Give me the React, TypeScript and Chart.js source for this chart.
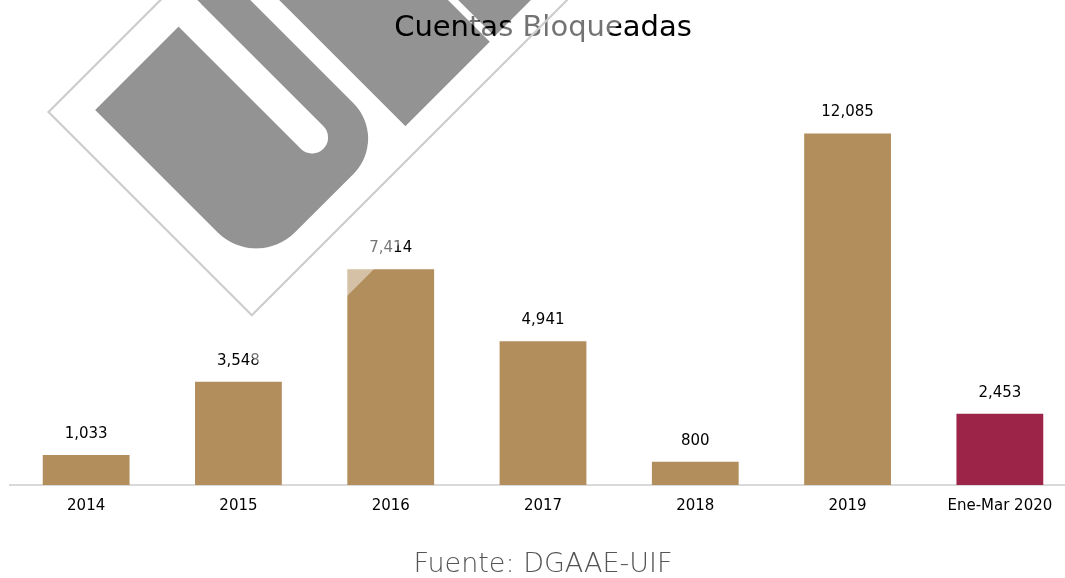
import React, { useEffect, useRef } from 'react';
import { Chart, registerables } from 'chart.js';

Chart.register(...registerables);

// ---- data ----
const categories = ['2014', '2015', '2016', '2017', '2018', '2019', 'Ene-Mar 2020'];
const values = [1033, 3548, 7414, 4941, 800, 12085, 2453];
const barColors = ['#B38E5D', '#B38E5D', '#B38E5D', '#B38E5D', '#B38E5D', '#B38E5D', '#9D2449'];
const titleText = 'Cuentas Bloqueadas';
const sourceText = 'Fuente: DGAAE-UIF';
const yMax = 14000;

const FONT = '"DejaVu Sans", sans-serif';
const CW = 1086;
const CH = 578;

// ---- watermark (decorative logo, drawn in a 45deg rotated frame) ----
function uPath(): Path2D {
  const p = new Path2D();
  p.moveTo(-20, -177);
  p.arcTo(373, -177, 373, 10.6, 50);
  p.arcTo(373, 10.6, 145, 10.6, 55);
  p.lineTo(145, 10.6);
  p.lineTo(145, -139.3);
  p.lineTo(-20, -139.3);
  p.closePath();
  return p;
}
function slotPath(): Path2D {
  const p = new Path2D();
  p.rect(100, -139.3, 218, 31.8);
  p.moveTo(318, -123.4);
  p.arc(318, -123.4, 15.9, -Math.PI / 2, Math.PI / 2);
  p.closePath();
  return p;
}
function blocksPath(): Path2D {
  const p = new Path2D();
  p.rect(-40, -316.8, 416, 119.5);
  p.rect(-40, -460, 415.5, 136.1);
  return p;
}

const watermarkBelow = {
  id: 'watermarkBelow',
  beforeDraw(chart: any) {
    const ctx: CanvasRenderingContext2D = chart.ctx;
    ctx.save();
    ctx.rotate(Math.PI / 4);
    ctx.fillStyle = '#939393';
    ctx.fill(uPath());
    ctx.globalCompositeOperation = 'destination-out';
    ctx.fill(slotPath());
    ctx.globalCompositeOperation = 'source-over';
    ctx.fill(blocksPath());
    ctx.restore();
  },
};

const watermarkAbove = {
  id: 'watermarkAbove',
  afterDraw(chart: any) {
    const ctx: CanvasRenderingContext2D = chart.ctx;
    const off = document.createElement('canvas');
    off.width = CW;
    off.height = CH;
    const o = off.getContext('2d')!;
    o.rotate(Math.PI / 4);
    o.fillStyle = 'rgba(255,255,255,0.45)';
    o.fillRect(-1000, -1000, 1454.7, 1074.2);
    o.globalCompositeOperation = 'destination-out';
    o.fillStyle = '#000';
    o.fill(uPath());
    o.globalCompositeOperation = 'source-over';
    o.fillStyle = 'rgba(255,255,255,0.45)';
    o.fill(slotPath());
    o.globalCompositeOperation = 'destination-out';
    o.fillStyle = '#000';
    o.fill(blocksPath());
    ctx.save();
    ctx.setTransform(1, 0, 0, 1, 0, 0);
    ctx.drawImage(off, 0, 0);
    ctx.rotate(Math.PI / 4);
    ctx.strokeStyle = '#cdcdcd';
    ctx.lineWidth = 2.2;
    ctx.beginPath();
    ctx.moveTo(113.5, -700);
    ctx.lineTo(113.5, 44.9);
    ctx.lineTo(401, 44.9);
    ctx.lineTo(401, -700);
    ctx.stroke();
    ctx.restore();
  },
};

const valueLabels = {
  id: 'valueLabels',
  afterDatasetsDraw(chart: any) {
    const ctx: CanvasRenderingContext2D = chart.ctx;
    const meta = chart.getDatasetMeta(0);
    ctx.save();
    ctx.font = `15px ${FONT}`;
    ctx.fillStyle = '#000';
    ctx.textAlign = 'center';
    ctx.textBaseline = 'middle';
    meta.data.forEach((bar: any, i: number) => {
      ctx.fillText(values[i].toLocaleString('en-US'), bar.x, bar.y - 21);
    });
    ctx.restore();
  },
};

export default function App() {
  const ref = useRef<HTMLCanvasElement>(null);
  useEffect(() => {
    if (!ref.current) return;
    const chart = new Chart(ref.current, {
      type: 'bar',
      data: {
        labels: categories,
        datasets: [
          {
            data: values,
            backgroundColor: barColors,
            borderWidth: 0,
            categoryPercentage: 1,
            barPercentage: 0.57,
          },
        ],
      },
      options: {
        responsive: false,
        animation: false,
        devicePixelRatio: 1,
        layout: { padding: { left: 10, right: 10, top: 0, bottom: 0 } },
        plugins: {
          legend: { display: false },
          tooltip: { enabled: false },
          title: {
            display: true,
            text: titleText,
            color: '#000',
            font: { family: FONT, size: 29, weight: 'normal', lineHeight: 1.2 },
            padding: { top: 11, bottom: 32 },
          },
          subtitle: {
            display: true,
            position: 'bottom',
            text: sourceText,
            color: '#555',
            font: { family: FONT, size: 27, weight: '300', lineHeight: 1 },
            padding: { top: 24, bottom: 0 },
          },
        },
        scales: {
          x: {
            grid: { display: false, drawTicks: false },
            border: { display: true, color: '#d9d9d9', width: 2 },
            ticks: { color: '#000', font: { family: FONT, size: 15 }, padding: 12 },
          },
          y: { display: false, min: 0, max: yMax },
        },
      },
      plugins: [watermarkBelow, valueLabels, watermarkAbove],
    } as any);
    return () => chart.destroy();
  }, []);
  return (
    <div style={{ position: 'fixed', left: 0, top: 0, width: 1065, height: 578, overflow: 'hidden', background: '#fff' }}>
      <canvas ref={ref} width={CW} height={CH} style={{ display: 'block', width: CW, height: CH }} />
    </div>
  );
}
